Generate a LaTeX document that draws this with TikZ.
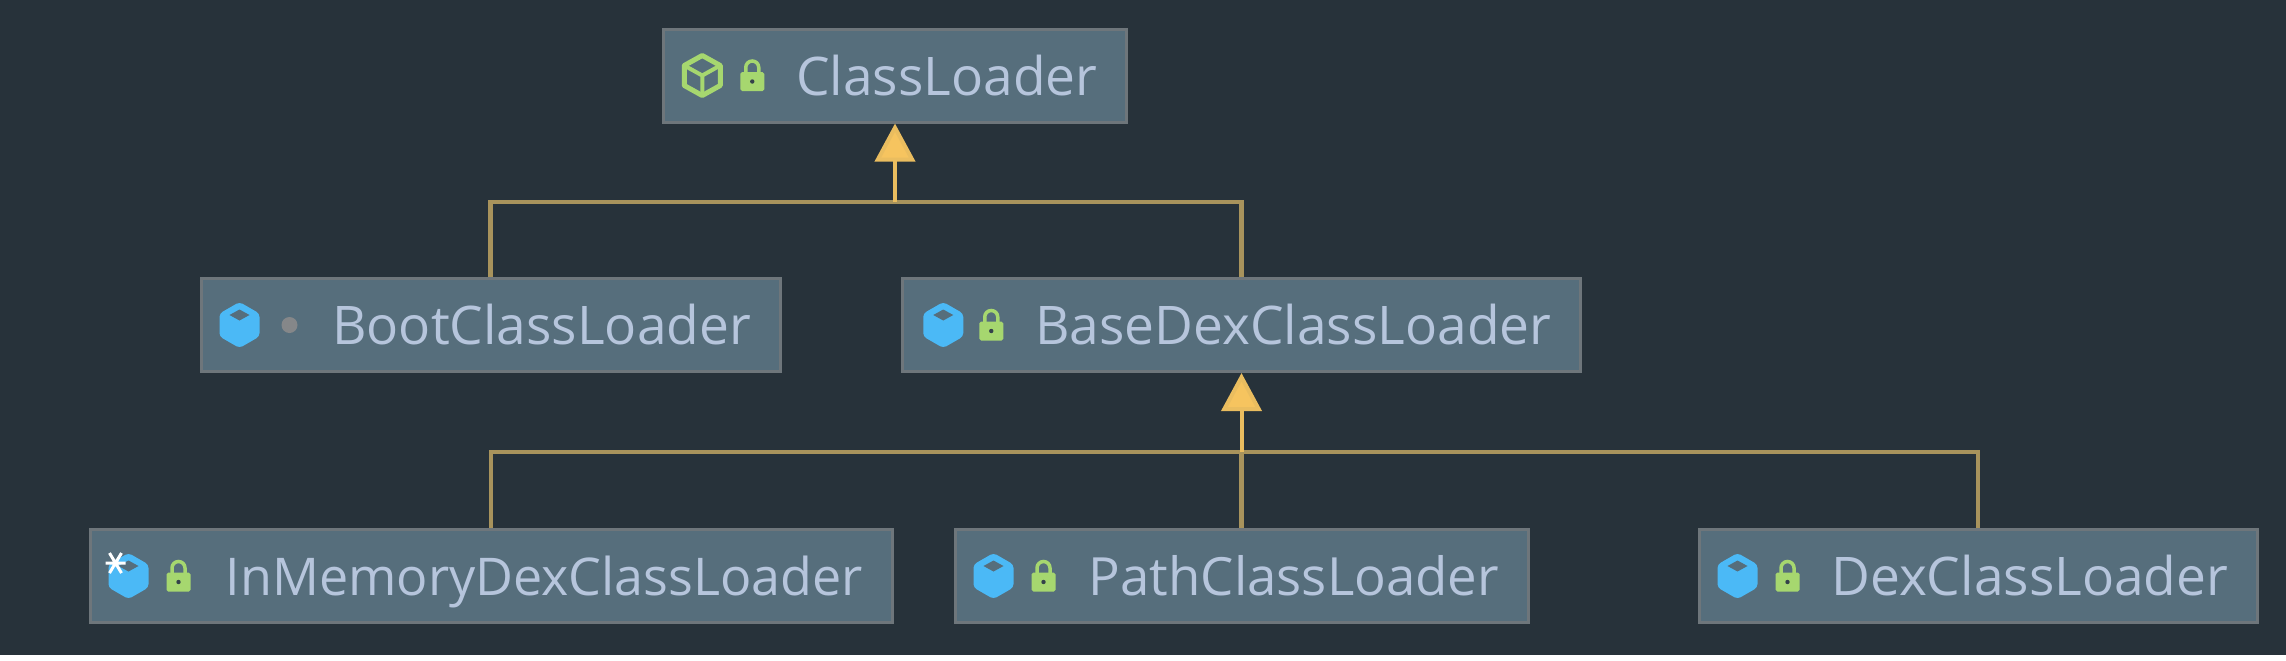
\documentclass[tikz,border=0pt]{standalone}
\usepackage{fontspec}
\setmainfont{Open Sans}
\usetikzlibrary{arrows.meta}
\definecolor{panelbg}{HTML}{27323A}
\definecolor{boxfill}{HTML}{566E7C}
\definecolor{boxedge}{HTML}{6E767B}
\definecolor{labeltext}{HTML}{B6C5DC}
\definecolor{busline}{HTML}{A8935C}
\definecolor{tipgold}{HTML}{F6C45F}
\definecolor{cubeblue}{HTML}{4BB9F6}
\definecolor{lockgreen}{HTML}{A6D76F}
\definecolor{dotgrey}{HTML}{858789}
\tikzset{
	classbox/.style={draw=boxedge,line width=0.03cm,fill=boxfill,text=labeltext,font=\fontsize{15.15}{16}\selectfont,
		inner xsep=0.29cm,inner ysep=0.27cm,text height=0.39cm,text depth=0pt,align=right},
	bus/.style={draw=busline,line width=0.042cm},
	extends/.style={draw=tipgold!85!busline,line width=0.04cm,-{Triangle[width=0.4cm,length=0.38cm,fill=tipgold]}},
	pics/solidcube/.style={code={
		\fill[cubeblue,rounded corners=1pt] (0,0.23) -- (0.2,0.115) -- (0.2,-0.115) -- (0,-0.23) -- (-0.2,-0.115) -- (-0.2,0.115) -- cycle;
		\fill[boxfill] (0,0.155) -- (0.1,0.1) -- (0,0.045) -- (-0.1,0.1) -- cycle;
	}},
	pics/opencube/.style={code={
		\draw[lockgreen,line width=0.05cm,line join=round] (0,0.2) -- (0.18,0.1) -- (0.18,-0.1) -- (0,-0.2) -- (-0.18,-0.1) -- (-0.18,0.1) -- cycle;
		\draw[lockgreen,line width=0.04cm] (-0.18,0.1) -- (0,0) -- (0.18,0.1) (0,0) -- (0,-0.2);
	}},
	pics/padlock/.style={code={
		\draw[lockgreen,line width=0.035cm] (-0.065,0.03) -- (-0.065,0.08) arc (180:0:0.065) -- (0.065,0.03);
		\fill[lockgreen,rounded corners=0.5pt] (-0.12,0.035) rectangle (0.12,-0.155);
		\fill[boxfill!60!black] (0,-0.06) circle (0.022);
	}},
	pics/freshmark/.style={code={
		\draw[white,line width=0.03cm] (-0.1,0) -- (0.1,0) (-0.06,-0.1) -- (0.06,0.1) (-0.06,0.1) -- (0.06,-0.1);
	}}
}
\begin{document}
\begin{tikzpicture}
	\useasboundingbox (0,0) rectangle (22.86,6.6);
	\fill[white] (0,0) rectangle (22.86,6.6);
	\fill[panelbg] (0,0.05) rectangle (22.86,6.6);

	\node[classbox,text width=4.045cm] (root) at (8.95,5.845) {ClassLoader};

	\node[classbox,text width=5.21cm] (boot) at (4.905,3.35) {BootClassLoader};
	\node[classbox,text width=6.195cm] (base) at (12.415,3.35) {BaseDexClassLoader};

	\node[classbox,text width=7.44cm,font=\fontsize{14.8}{16}\selectfont] (inmem) at (4.91,0.84) {InMemoryDexClassLoader};
	\node[classbox,text width=5.15cm,font=\fontsize{15}{16}\selectfont] (pathdex) at (12.415,0.84) {PathClassLoader};
	\node[classbox,text width=5cm] (dex) at (19.78,0.84) {DexClassLoader};

	\coordinate (upper) at (8.95,4.58);
	\coordinate (lower) at (12.415,2.08);

	\draw[bus] (boot.north) |- (upper) -| (base.north);
	\draw[extends] (upper) -- (root.south);

	\draw[bus] (inmem.north) |- (lower) -| (dex.north);
	\draw[bus] (pathdex.north) -- (lower);
	\draw[extends] (lower) -- (base.south);

	\pic at ([xshift=0.4cm]root.west) {opencube};
	\pic at ([xshift=0.9cm]root.west) {padlock};

	\pic at ([xshift=0.4cm]boot.west) {solidcube};
	\fill[dotgrey] ([xshift=0.9cm]boot.west) circle (0.08);

	\pic at ([xshift=0.42cm]base.west) {solidcube};
	\pic at ([xshift=0.9cm]base.west) {padlock};

	\pic at ([xshift=0.4cm]inmem.west) {solidcube};
	\pic at ([xshift=0.27cm,yshift=0.13cm]inmem.west) {freshmark};
	\pic at ([xshift=0.9cm]inmem.west) {padlock};

	\pic at ([xshift=0.4cm]pathdex.west) {solidcube};
	\pic at ([xshift=0.9cm]pathdex.west) {padlock};

	\pic at ([xshift=0.4cm]dex.west) {solidcube};
	\pic at ([xshift=0.9cm]dex.west) {padlock};
\end{tikzpicture}
\end{document}
